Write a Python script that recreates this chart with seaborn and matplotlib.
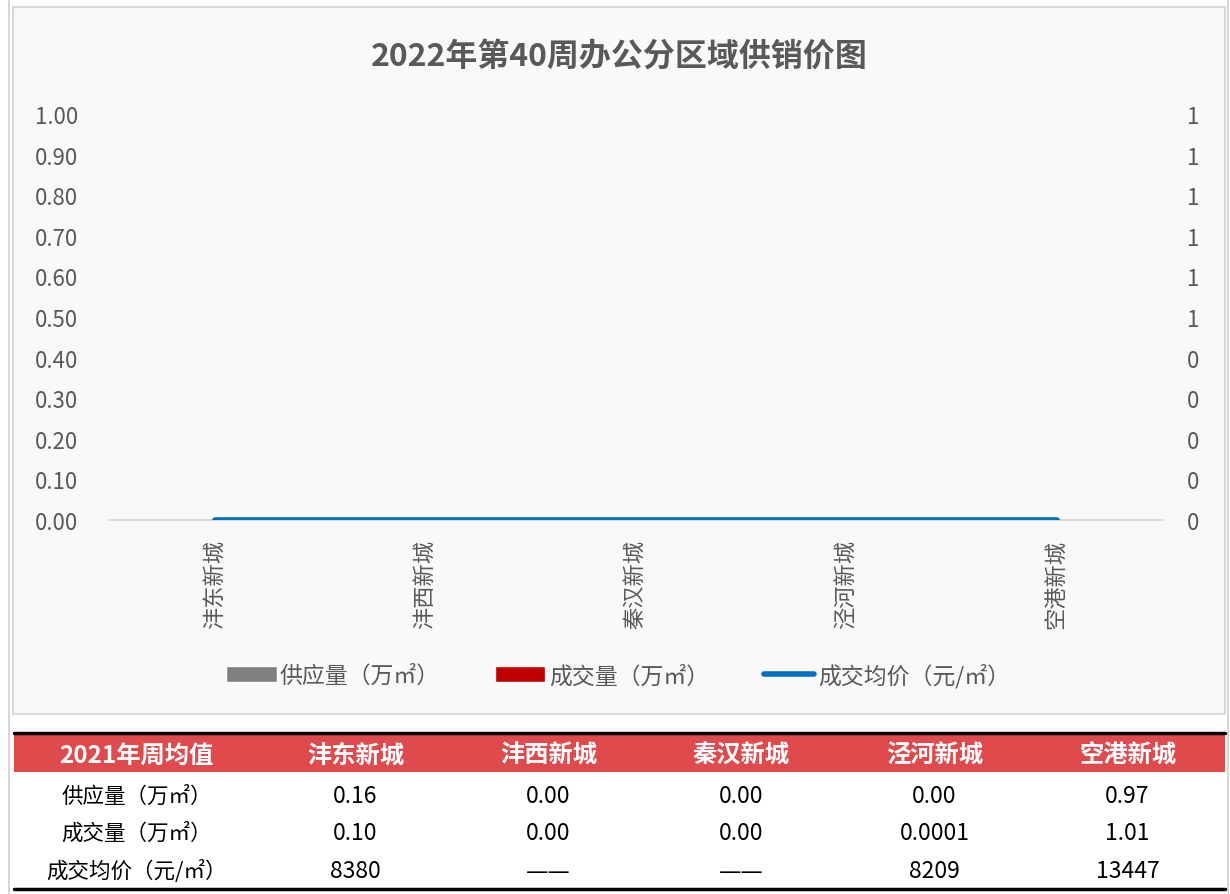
import numpy as np
import pandas as pd
import seaborn as sns
import matplotlib.pyplot as plt
from matplotlib.patches import Rectangle, Patch
from matplotlib.lines import Line2D
from matplotlib.ticker import FuncFormatter, MultipleLocator

# chart data (week 40 of 2022: all values are zero)
districts = ['沣东新城', '沣西新城', '秦汉新城', '泾河新城', '空港新城']
supply = [0, 0, 0, 0, 0]      # 供应量（万㎡）
deal = [0, 0, 0, 0, 0]        # 成交量（万㎡）
price = [0, 0, 0, 0, 0]       # 成交均价（元/㎡）

# table under the chart: 2021 weekly averages
table_header = ['2021年周均值'] + districts
row_names = ['供应量（万㎡）', '成交量（万㎡）', '成交均价（元/㎡）']
supply_2021 = ['0.16', '0.00', '0.00', '0.00', '0.97']
deal_2021 = ['0.10', '0.00', '0.00', '0.0001', '1.01']
price_2021 = ['8380', '——', '——', '8209', '13447']

sns.set_theme(style='white')
plt.rcParams['font.family'] = ['Noto Sans CJK SC', 'DejaVu Sans']

W, H = 1230, 895
fig = plt.figure(figsize=(W / 100, H / 100), dpi=100)
fig.patch.set_facecolor('white')

# background layer in pixel coordinates
bg = fig.add_axes([0, 0, 1, 1], zorder=0)
bg.set_xlim(0, W)
bg.set_ylim(H, 0)
bg.axis('off')
bg.add_patch(Rectangle((13, 8), 1212, 707, facecolor='#f9f9f9', edgecolor='#d9d9d9', lw=1.5))
bg.plot([9, 9], [0, H], color='#d0d0d0', lw=1.2)
bg.plot([1228, 1228], [0, H], color='#d0d0d0', lw=1.2)

# chart
ax = fig.add_axes([110 / W, 1 - 521 / H, 1052 / W, 406 / H], zorder=2)
ax.patch.set_alpha(0)
df = pd.DataFrame({'区域': districts, '供应量': supply, '成交量': deal, '成交均价': price})
long = df.melt(id_vars='区域', value_vars=['供应量', '成交量'], var_name='指标', value_name='值')
sns.barplot(data=long, x='区域', y='值', hue='指标', palette=['#808080', '#c00000'],
            ax=ax, legend=False, width=0.6)
ax.set_ylim(0, 1)
ax.set_xlim(-0.5, 4.5)
ax.yaxis.set_major_locator(MultipleLocator(0.1))
ax.yaxis.set_major_formatter(FuncFormatter(lambda v, p: f'{v:.2f}'))
ax.set_xlabel('')
ax.set_ylabel('')
for s in ['top', 'left', 'right']:
    ax.spines[s].set_visible(False)
ax.spines['bottom'].set_color('#d9d9d9')
ax.spines['bottom'].set_linewidth(1.5)
ax.tick_params(axis='y', labelsize=16, labelcolor='#595959', length=0, pad=23)
ax.tick_params(axis='x', labelsize=16, labelcolor='#595959', length=0, pad=14)
for lab in ax.get_xticklabels():
    lab.set_rotation(90)
    lab.set_va('top')
    lab.set_ha('center')

ax2 = ax.twinx()
ax2.patch.set_alpha(0)
sns.lineplot(data=df, x='区域', y='成交均价', ax=ax2, color='#0070c0', lw=4,
             solid_capstyle='round', sort=False)
ax2.set_ylim(0, 1)
ax2.yaxis.set_major_locator(MultipleLocator(0.1))
ax2.yaxis.set_major_formatter(FuncFormatter(lambda v, p: f'{int(np.floor(v + 0.5 + 1e-9))}'))
ax2.set_ylabel('')
for s in ax2.spines.values():
    s.set_visible(False)
ax2.tick_params(axis='y', labelsize=16, labelcolor='#595959', length=0, pad=18)

fig.text(619 / W, 1 - 58 / H, '2022年第40周办公分区域供销价图', ha='center', va='center',
         fontsize=23, fontweight='bold', color='#595959')

handles = [Patch(facecolor='#808080', label='供应量（万㎡）'),
           Patch(facecolor='#c00000', label='成交量（万㎡）'),
           Line2D([0], [0], color='#0070c0', lw=4, solid_capstyle='round', label='成交均价（元/㎡）')]
fig.legend(handles=handles, loc='center', bbox_to_anchor=(618 / W, 1 - 676 / H), ncol=3,
           frameon=False, fontsize=16.5, labelcolor='#595959', handlelength=2.2,
           handleheight=0.7, columnspacing=2.4, handletextpad=0.15)

# table
first_w = 245
col_w = (1224 - 14 - first_w) / 5
col_x = [14 + first_w / 2] + [14 + first_w + col_w * (i + 0.5) for i in range(5)]
bg.add_patch(Rectangle((14, 735), 1211, 38, facecolor='#df4a4d', edgecolor='none'))
bg.plot([14, 1225], [734, 734], color='black', lw=2.5)
bg.plot([14, 1225], [890, 890], color='black', lw=2.5)
for x, t in zip(col_x, table_header):
    bg.text(x, 756, t, ha='center', va='center', fontsize=17.5, fontweight='bold', color='white')
rows = [supply_2021, deal_2021, price_2021]
row_y = [797, 834, 872]
for y, name, vals in zip(row_y, row_names, rows):
    bg.text(col_x[0], y, name, ha='center', va='center', fontsize=15.5, color='black')
    for x, v in zip(col_x[1:], vals):
        if v == '——':
            bg.text(x, y, v, ha='center', va='center', color='black', fontsize=16,
                    family=['DejaVu Sans'])
        else:
            bg.text(x, y, v, ha='center', va='center', color='black', fontsize=16.5)

fig.savefig('out.png', dpi=100)
